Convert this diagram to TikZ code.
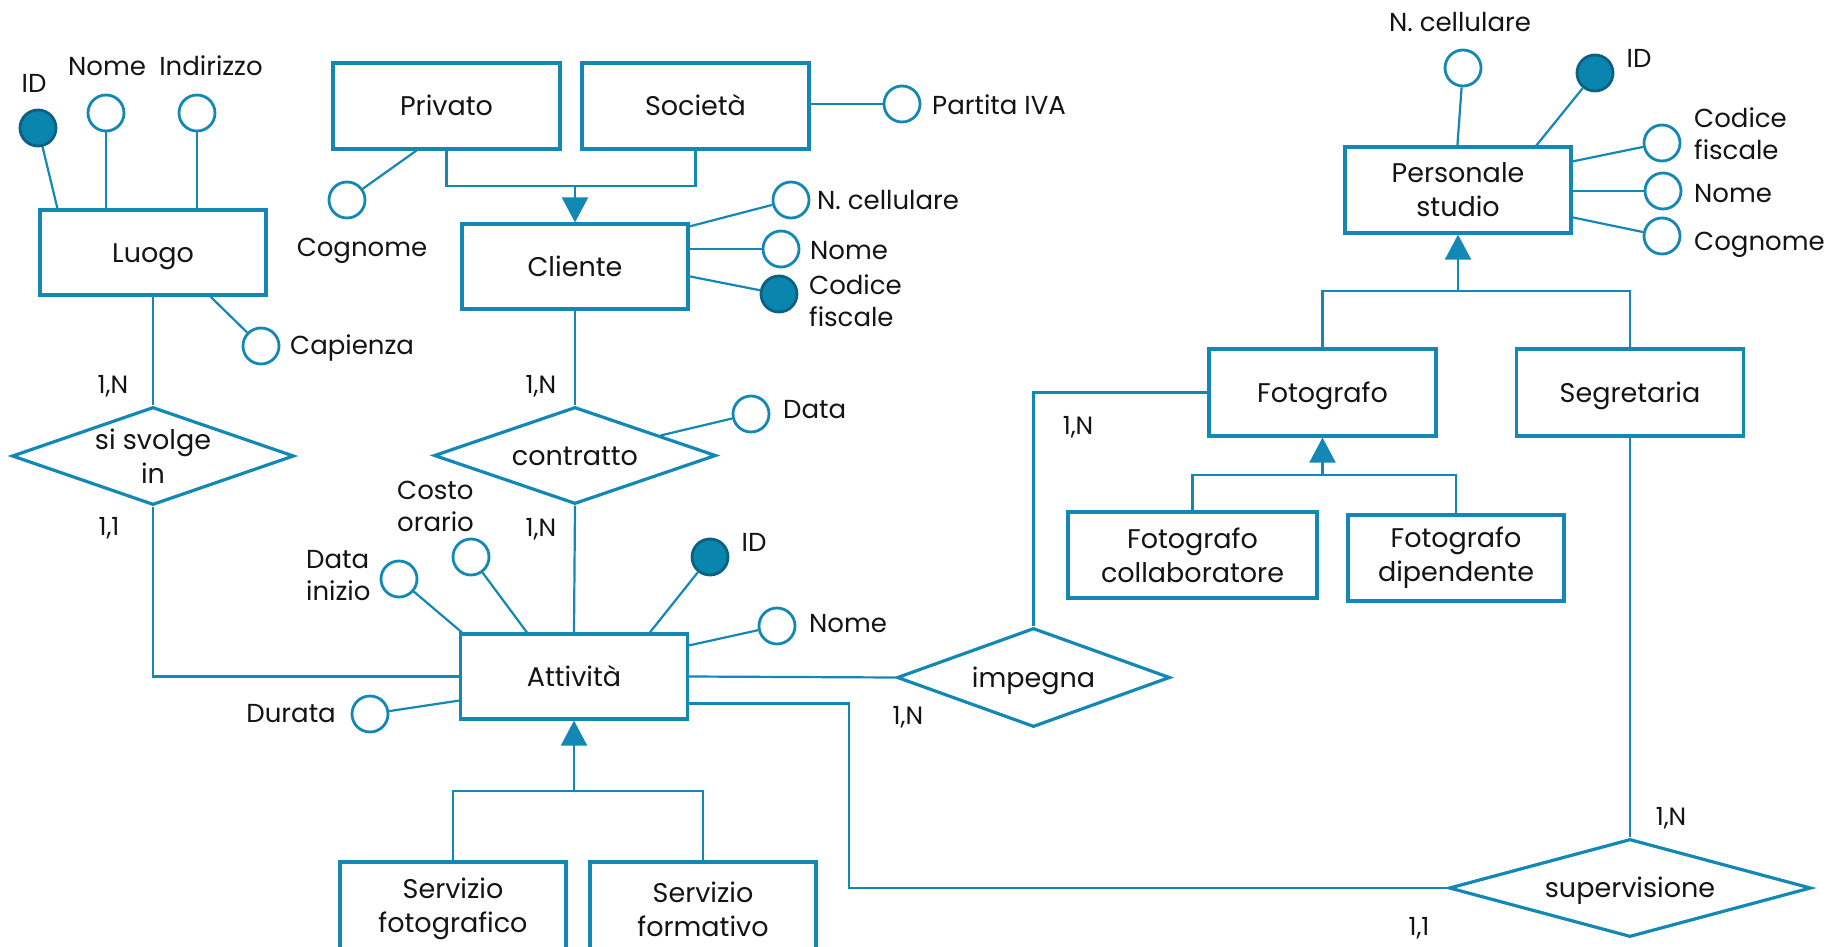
\documentclass[tikz,border=0pt]{standalone}
\usepackage{fontspec}
\setmainfont{Poppins}
\usetikzlibrary{arrows.meta,shapes.geometric,calc}
\definecolor{ercol}{RGB}{20,136,180}
\definecolor{keyfill}{RGB}{10,134,174}
\definecolor{keydraw}{RGB}{12,96,130}
\definecolor{txt}{RGB}{20,20,20}
\begin{document}
\begin{tikzpicture}[x=1pt,y=-1pt,
 ent/.style={draw=ercol, line width=3.2pt, rectangle, inner sep=0pt, font=\fontsize{27}{34}\selectfont, align=center, text=txt},
 one/.style={text height=19pt, text depth=0pt},
 rel/.style={draw=ercol, line width=3.2pt, diamond, inner sep=0pt},
 reltext/.style={font=\fontsize{27}{34}\selectfont, align=center, text=txt, inner sep=0pt},
 att/.style={circle, draw=ercol, line width=2.8pt, fill=white, minimum size=36pt, inner sep=0pt},
 key/.style={att, fill=keyfill, draw=keydraw},
 lbl/.style={font=\fontsize{26}{32}\selectfont, inner sep=0pt, text=txt, align=left},
 card/.style={font=\fontsize{25}{30}\selectfont, inner sep=0pt, text=txt, text height=17.5pt, text depth=0pt},
 conn/.style={draw=ercol, line width=2.2pt},
 isa/.style={conn, -{Triangle[length=25pt,width=26pt]}}]
\useasboundingbox (0,0) rectangle (1839,947);
\fill[white] (0,0) rectangle (1839,947);

% entities
\node[ent, one, minimum width=226pt, minimum height=85pt] (luogo) at (153,252.5) {Luogo};
\node[ent, one, minimum width=227pt, minimum height=86pt] (privato) at (446.5,106) {Privato};
\node[ent, one, minimum width=227pt, minimum height=86pt] (societa) at (695.5,106) {Società};
\node[ent, one, minimum width=226pt, minimum height=85pt] (cliente) at (575,266.5) {Cliente};
\node[ent, one, minimum width=227pt, minimum height=85pt] (attivita) at (574,676.5) {Attività};
\node[ent, minimum width=226pt, minimum height=86pt] (personale) at (1458,190) {Personale\\studio};
\node[ent, one, minimum width=227pt, minimum height=87pt] (fotografo) at (1322.5,392.5) {Fotografo};
\node[ent, one, minimum width=227pt, minimum height=87pt] (segretaria) at (1630,392.5) {Segretaria};
\node[ent, minimum width=249pt, minimum height=86pt] (fcoll) at (1192.5,555) {Fotografo\\collaboratore};
\node[ent, minimum width=216pt, minimum height=86pt] (fdip) at (1456,558) {Fotografo\\dipendente};
\node[ent, minimum width=226pt, minimum height=94pt] (sfoto) at (453,909) {Servizio\\fotografico};
\node[ent, minimum width=226pt, minimum height=94pt] (sform) at (703,909) {Servizio\\formativo};

% relationships
\node[rel, minimum width=282pt, minimum height=98pt, label={[reltext]center:si svolge\\in}] (sisvolge) at (153,456) {};
\node[rel, minimum width=282pt, minimum height=97pt, label={[reltext, one]center:contratto}] (contratto) at (575,455.5) {};
\node[rel, minimum width=273pt, minimum height=99pt, label={[reltext, one]center:impegna}] (impegna) at (1033.5,677.5) {};
\node[rel, minimum width=362pt, minimum height=98pt, label={[reltext, one]center:supervisione}] (supervisione) at (1630,888) {};

% attributes
\node[key] (lid) at (38,128) {};
\node[att] (lnome) at (106,113) {};
\node[att] (lind) at (197,113) {};
\node[att] (lcap) at (261,346) {};
\node[att] (pcogn) at (347,200) {};
\node[att] (piva) at (902,104) {};
\node[att] (cncell) at (791,200) {};
\node[att] (cnome) at (781,249) {};
\node[key] (ccf) at (779,294) {};
\node[att] (cdata) at (751,414) {};
\node[att] (adi) at (399,579) {};
\node[att] (aco) at (471,557) {};
\node[key] (aid) at (710,557) {};
\node[att] (anome) at (777,626) {};
\node[att] (adur) at (370,714) {};
\node[att] (pncell) at (1463,68) {};
\node[key] (pid) at (1595,73) {};
\node[att] (pcf) at (1662,143) {};
\node[att] (pnome) at (1663,191) {};
\node[att] (pcogn2) at (1662,236) {};

% attribute labels
\node[lbl, one] (tlid) at (34,83) {ID};
\node[lbl, one] (tlnome) at (107,66) {Nome};
\node[lbl, one] (tlind) at (211,66) {Indirizzo};
\node[lbl, one, anchor=west] (tlcap) at (290,345) {Capienza};
\node[lbl, one] (tpcogn) at (362,247) {Cognome};
\node[lbl, one, anchor=west] (tpiva) at (932,105) {Partita IVA};
\node[lbl, one, anchor=west] (tcncell) at (817,200) {N. cellulare};
\node[lbl, one, anchor=west] (tcnome) at (810,250) {Nome};
\node[lbl, anchor=west] (tccf) at (809,301) {Codice\\fiscale};
\node[lbl, one, anchor=west] (tcdata) at (783,409) {Data};
\node[lbl, anchor=west] (tadi) at (306,576) {Data\\inizio};
\node[lbl, anchor=west] (taco) at (397,506) {Costo\\orario};
\node[lbl, one] (taid) at (754,542) {ID};
\node[lbl, one, anchor=west] (tanome) at (809,623) {Nome};
\node[lbl, one, anchor=east] (tadur) at (336,713) {Durata};
\node[lbl, one] (tpncell) at (1460,22) {N. cellulare};
\node[lbl, one] (tpid) at (1639,58) {ID};
\node[lbl, anchor=west] (tpcf) at (1694,134) {Codice\\fiscale};
\node[lbl, one, anchor=west] (tpnome) at (1694,193) {Nome};
\node[lbl, one, anchor=west] (tpcogn) at (1694,241) {Cognome};

% cardinalities
\node[card] (k1) at (113,385) {1,N};
\node[card] (k2) at (109,527) {1,1};
\node[card] (k3) at (541,385) {1,N};
\node[card] (k4) at (541,528) {1,N};
\node[card] (k5) at (1078,426) {1,N};
\node[card] (k6) at (908,716) {1,N};
\node[card] (k7) at (1671,817) {1,N};
\node[card] (k8) at (1419,927) {1,1};

% attribute lines
\draw[conn] (lid) -- ($(luogo.north west)+(19,0)$);
\draw[conn] (lnome) -- (lnome |- luogo.north);
\draw[conn] (lind) -- (lind |- luogo.north);
\draw[conn] (lcap) -- ($(luogo.south west)+(172,0)$);
\draw[conn] (pcogn) -- ($(privato.south west)+(85,0)$);
\draw[conn] (piva) -- (societa.east |- piva);
\draw[conn] (cncell) -- ($(cliente.north east)+(0,4)$);
\draw[conn] (cnome) -- (cliente.east |- cnome);
\draw[conn] (ccf) -- ($(cliente.north east)+(0,54)$);
\draw[conn] (cdata) -- ($(contratto.north)!0.6!(contratto.east)$);
\draw[conn] (adi) -- ($(attivita.north west)+(3,0)$);
\draw[conn] (aco) -- ($(attivita.north west)+(68,0)$);
\draw[conn] (aid) -- ($(attivita.north west)+(191,0)$);
\draw[conn] (anome) -- ($(attivita.north east)+(0,13)$);
\draw[conn] (adur) -- ($(attivita.south west)+(0,-20)$);
\draw[conn] (pncell) -- ($(personale.north west)+(114,0)$);
\draw[conn] (pid) -- ($(personale.north west)+(193,0)$);
\draw[conn] (pcf) -- ($(personale.north east)+(0,16)$);
\draw[conn] (pnome) -- (personale.east |- pnome);
\draw[conn] (pcogn2) -- ($(personale.north east)+(0,72)$);

% relationship lines
\draw[conn] (luogo.south) -- (sisvolge.north);
\draw[conn] (sisvolge.south) |- (attivita.west);
\draw[conn] (cliente.south) -- (contratto.north);
\draw[conn] (contratto.south) -- (attivita.north);
\draw[conn] (attivita.east) -- (impegna.west);
\draw[conn] (fotografo.west) -| (impegna.north);
\coordinate (sv) at (849,888);
\draw[conn] ([yshift=-27pt]attivita.east) -| (sv) -- (supervisione.west);
\draw[conn] (segretaria.south) -- (supervisione.north);

% generalisations
\coordinate (jc) at (575,186);
\draw[conn] (privato.south) |- (jc) -| (societa.south);
\draw[isa] (jc) -- (cliente.north);
\coordinate (jp) at (1458,291);
\draw[conn] (fotografo.north) |- (jp) -| (segretaria.north);
\draw[isa] (jp) -- (personale.south);
\coordinate (jf) at (1322.5,475);
\draw[conn] (fcoll.north) |- (jf) -| (fdip.north);
\draw[isa] (jf) -- (fotografo.south);
\coordinate (ja) at (574,791);
\draw[conn] (sfoto.north) |- (ja) -| (sform.north);
\draw[isa] (ja) -- (attivita.south);
\end{tikzpicture}
\end{document}
